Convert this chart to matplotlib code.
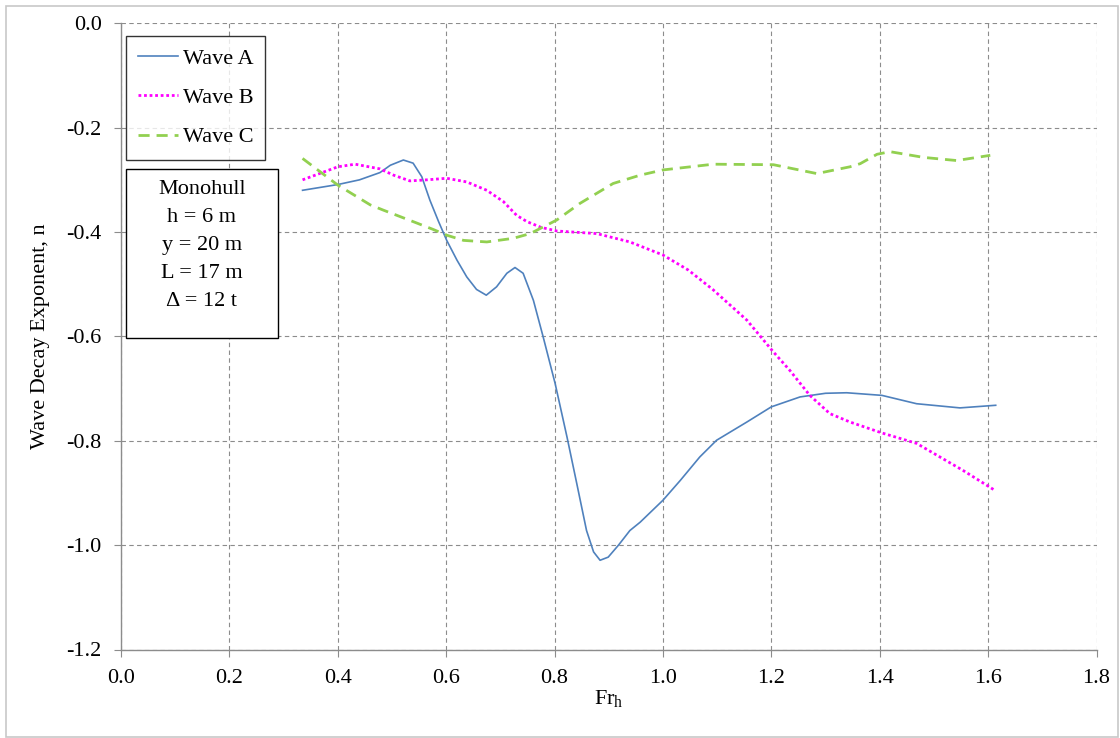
import matplotlib
matplotlib.use("Agg")
import matplotlib.pyplot as plt
from matplotlib.patches import Rectangle

plt.rcParams['font.family'] = ['Liberation Serif', 'DejaVu Serif']
plt.rcParams['mathtext.fontset'] = 'custom'
plt.rcParams['mathtext.rm'] = 'Liberation Serif'

# Data
wave_a_x = [0.335, 0.40, 0.44, 0.478, 0.497, 0.521, 0.539, 0.555, 0.570, 0.586, 0.601,
            0.620, 0.638, 0.656, 0.674, 0.693, 0.712, 0.727, 0.742, 0.761, 0.779, 0.801,
            0.823, 0.841, 0.859, 0.872, 0.884, 0.899, 0.918, 0.939, 0.958, 1.0, 1.032,
            1.068, 1.099, 1.155, 1.2, 1.253, 1.300, 1.339, 1.404, 1.468, 1.548, 1.614]
wave_a_y = [-0.320, -0.309, -0.300, -0.286, -0.272, -0.262, -0.268, -0.294, -0.339, -0.380,
            -0.416, -0.454, -0.486, -0.510, -0.521, -0.505, -0.479, -0.468, -0.479, -0.531,
            -0.601, -0.690, -0.793, -0.882, -0.972, -1.013, -1.029, -1.023, -1.000, -0.972,
            -0.956, -0.914, -0.876, -0.831, -0.799, -0.764, -0.735, -0.716, -0.709, -0.708,
            -0.713, -0.729, -0.737, -0.732]

wave_b_x = [0.335, 0.40, 0.432, 0.478, 0.503, 0.533, 0.564, 0.601, 0.638, 0.675, 0.706,
            0.730, 0.749, 0.775, 0.804, 0.878, 0.939, 1.0, 1.047, 1.093, 1.155, 1.204,
            1.234, 1.271, 1.308, 1.345, 1.404, 1.468, 1.554, 1.614]
wave_b_y = [-0.300, -0.275, -0.270, -0.279, -0.291, -0.302, -0.300, -0.297, -0.304, -0.320,
            -0.342, -0.368, -0.380, -0.391, -0.398, -0.403, -0.419, -0.444, -0.473, -0.511,
            -0.569, -0.630, -0.665, -0.713, -0.748, -0.764, -0.785, -0.805, -0.857, -0.896]

wave_c_x = [0.335, 0.40, 0.460, 0.484, 0.539, 0.576, 0.601, 0.632, 0.675, 0.724, 0.755,
            0.804, 0.847, 0.908, 0.958, 1.0, 1.093, 1.204, 1.284, 1.345, 1.364, 1.395,
            1.419, 1.481, 1.542, 1.604]
wave_c_y = [-0.259, -0.310, -0.348, -0.358, -0.380, -0.395, -0.406, -0.416, -0.419, -0.412,
            -0.403, -0.377, -0.345, -0.307, -0.291, -0.281, -0.270, -0.271, -0.288, -0.275,
            -0.269, -0.251, -0.246, -0.257, -0.263, -0.253]

x_ticks = [0.0, 0.2, 0.4, 0.6, 0.8, 1.0, 1.2, 1.4, 1.6, 1.8]
y_ticks = [0.0, -0.2, -0.4, -0.6, -0.8, -1.0, -1.2]
info_lines = ["Monohull", "h = 6 m", "y = 20 m", "L = 17 m", "\u0394 = 12 t"]

W, H = 1120, 738
fig = plt.figure(figsize=(W / 100, H / 100), dpi=100)
left, right, top, bottom = 121, 1096.5, 23.3, 649.5
ax = fig.add_axes([left / W, 1 - bottom / H, (right - left) / W, (bottom - top) / H])

ax.plot(wave_a_x, wave_a_y, color='#4F81BD', lw=1.2, label='Wave A')
ax.plot(wave_b_x, wave_b_y, color='#FF00FF', lw=2.0, linestyle=(0, (1, 1)), label='Wave B')
ax.plot(wave_c_x, wave_c_y, color='#92D050', lw=2.0, linestyle=(0, (4, 2.5)), label='Wave C')

ax.set_xlim(0, 1.8)
ax.set_ylim(-1.2, 0.0)
ax.set_xticks(x_ticks)
ax.set_xticklabels([f"{v:.1f}" for v in x_ticks])
ax.set_yticks(y_ticks)
ax.set_yticklabels([f"{v:.1f}" for v in y_ticks])

ax.grid(True, color='#8c8c8c', linestyle=(0, (4, 3)), linewidth=0.8)
for s in ['top', 'right']:
    ax.spines[s].set_visible(False)
for s in ['left', 'bottom']:
    ax.spines[s].set_color('#8c8c8c')
    ax.spines[s].set_linewidth(1.0)
ax.tick_params(axis='both', direction='out', colors='#8c8c8c', labelcolor='black',
               labelsize=16, length=5, width=0.8)
ax.tick_params(axis='y', pad=9)
ax.tick_params(axis='x', pad=9)

ax.set_xlabel(r'Fr$_\mathregular{h}$', fontsize=16, labelpad=0)
ax.set_ylabel('Wave Decay Exponent, n', fontsize=16, labelpad=12)

leg = ax.legend(loc='upper left', bbox_to_anchor=(0.005, 0.98), borderaxespad=0,
                fontsize=16, handlelength=1.8, handletextpad=0.2, labelspacing=0.85,
                borderpad=0.55, fancybox=False, frameon=True)
leg.get_frame().set_edgecolor('black')
leg.get_frame().set_linewidth(1.0)

# info box
x0, x1 = 0.005, 0.161
y0, y1 = 0.498, 0.768
ax.add_patch(Rectangle((x0, y0), x1 - x0, y1 - y0, transform=ax.transAxes,
                       facecolor='white', edgecolor='black', lw=1.0, zorder=5))
ax.text((x0 + x1) / 2, 0.749, "\n".join(info_lines), transform=ax.transAxes,
        ha='center', va='top', fontsize=16, linespacing=1.63, zorder=6)

# outer border
fig.patches.append(Rectangle((6 / W, 1.5 / H), 1112 / W, 730.5 / H, transform=fig.transFigure,
                             facecolor='none', edgecolor='#c8c8c8', lw=1.2))

fig.savefig('out.png', dpi=100)
